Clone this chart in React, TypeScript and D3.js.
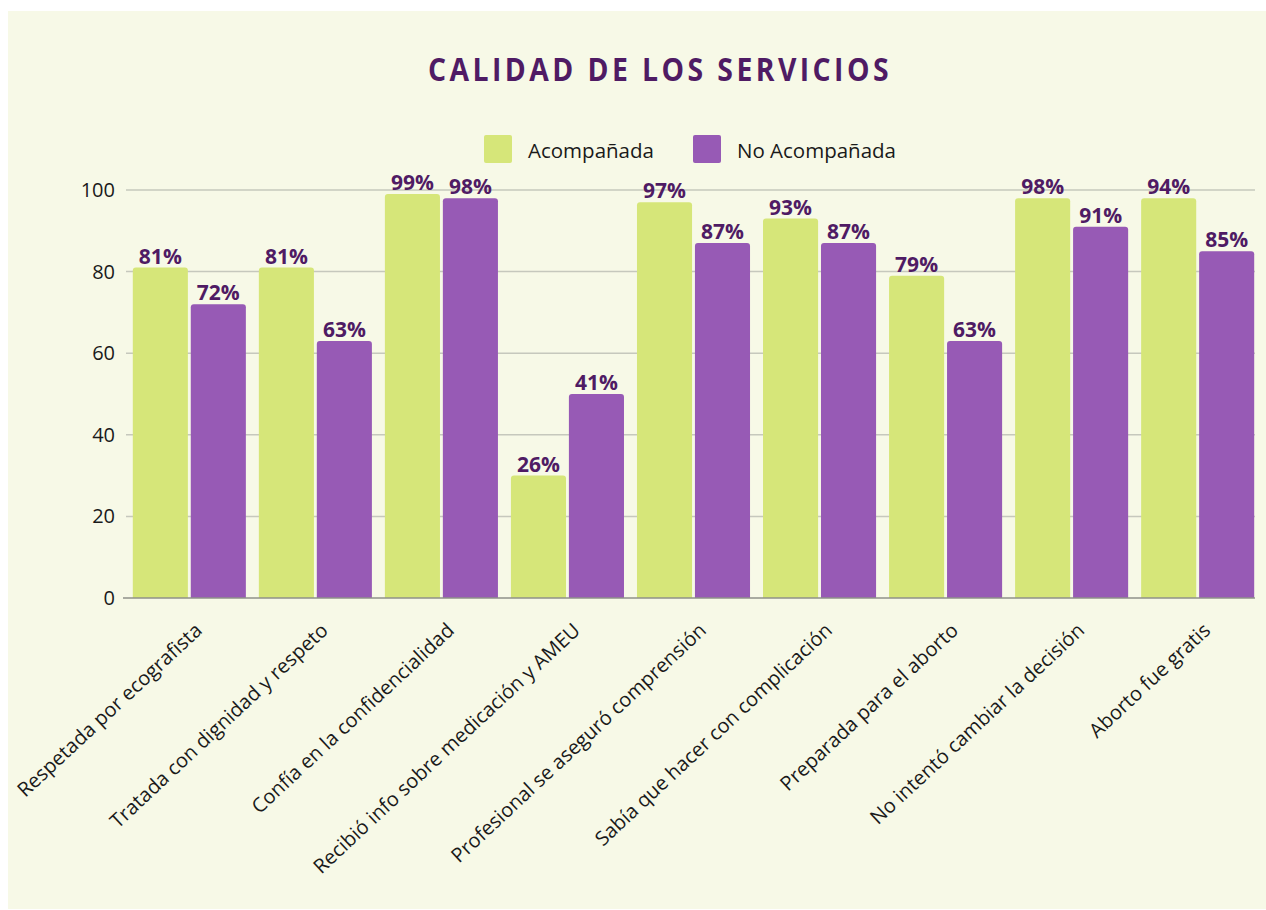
import React, { useEffect, useRef } from 'react';
import * as d3 from 'd3';

const CATEGORIES = [
  'Respetada por ecografista',
  'Tratada con dignidad y respeto',
  'Confía en la confidencialidad',
  'Recibió info sobre medicación y AMEU',
  'Profesional se aseguró comprensión',
  'Sabía que hacer con complicación',
  'Preparada para el aborto',
  'No intentó cambiar la decisión',
  'Aborto fue gratis'
];
const SERIES = ['Acompañada', 'No Acompañada'];
// bar heights as drawn in the picture
const ACOMP_VALUES = [81, 81, 99, 30, 97, 93, 79, 98, 98];
const NO_ACOMP_VALUES = [72, 63, 98, 50, 87, 87, 63, 91, 85];
// labels printed above the bars
const ACOMP_LABELS = ['81%', '81%', '99%', '26%', '97%', '93%', '79%', '98%', '94%'];
const NO_ACOMP_LABELS = ['72%', '63%', '98%', '41%', '87%', '87%', '63%', '91%', '85%'];
const Y_TICKS = [0, 20, 40, 60, 80, 100];

const COLORS = ['#d6e679', '#975ab5'];
const FONT = '"Open Sans", "Noto Sans", sans-serif';

export default function App() {
  const svgRef = useRef<SVGSVGElement>(null);

  useEffect(() => {
    const W = 1266;
    const svg = d3.select(svgRef.current);
    svg.selectAll('*').remove();

    // panel
    svg.append('rect')
      .attr('x', 8).attr('y', 11)
      .attr('width', W - 8).attr('height', 898)
      .attr('fill', '#f7f9e7');

    const x0 = d3.scaleBand<string>()
      .domain(CATEGORIES)
      .range([126.5, 1260.5])
      .paddingInner(0.103)
      .paddingOuter(0.05);
    const x1 = d3.scaleBand<string>()
      .domain(SERIES)
      .range([0, x0.bandwidth()])
      .paddingInner(0.05);
    const y = d3.scaleLinear().domain([0, 100]).range([598, 190]);

    // gridlines + y labels
    const yAxis = svg.append('g');
    yAxis.selectAll('line')
      .data(Y_TICKS.filter(t => t > 0))
      .join('line')
        .attr('x1', 126).attr('x2', 1255)
        .attr('y1', d => y(d)).attr('y2', d => y(d))
        .attr('stroke', '#c6c8bd').attr('stroke-width', 1.5);
    yAxis.selectAll('text')
      .data(Y_TICKS)
      .join('text')
        .attr('x', 115)
        .attr('y', d => y(d) + 7)
        .attr('text-anchor', 'end')
        .style('font-family', FONT)
        .style('font-size', '20px')
        .style('fill', '#1a1a1a')
        .text(d => d);

    const rows = CATEGORIES.map((c, i) => ({
      cat: c,
      vals: [
        { s: SERIES[0], v: ACOMP_VALUES[i], label: ACOMP_LABELS[i] },
        { s: SERIES[1], v: NO_ACOMP_VALUES[i], label: NO_ACOMP_LABELS[i] }
      ]
    }));

    const topRound = (x: number, yTop: number, w: number, yBot: number, r: number) =>
      `M${x},${yBot}V${yTop + r}Q${x},${yTop} ${x + r},${yTop}H${x + w - r}Q${x + w},${yTop} ${x + w},${yTop + r}V${yBot}Z`;

    const groups = svg.append('g').selectAll('g')
      .data(rows)
      .join('g')
        .attr('transform', d => `translate(${x0(d.cat)},0)`);

    groups.selectAll('path')
      .data(d => d.vals)
      .join('path')
        .attr('d', d => topRound(x1(d.s)!, y(d.v), x1.bandwidth(), y(0), 3))
        .attr('fill', (d, i) => COLORS[i]);

    groups.selectAll('text')
      .data(d => d.vals)
      .join('text')
        .attr('x', d => x1(d.s)! + x1.bandwidth() / 2)
        .attr('y', d => y(d.v) - 4)
        .attr('text-anchor', 'middle')
        .style('font-family', FONT)
        .style('font-weight', 700)
        .style('font-size', '21px')
        .style('fill', '#4f1b64')
        .text(d => d.label);

    // baseline
    svg.append('line')
      .attr('x1', 123).attr('x2', 1255)
      .attr('y1', y(0)).attr('y2', y(0))
      .attr('stroke', '#8f918a').attr('stroke-width', 1.5);

    // x labels
    svg.append('g').selectAll('text')
      .data(CATEGORIES)
      .join('text')
        .attr('transform', d => `translate(${x0(d)! + x0.bandwidth() / 2 + 14},632) rotate(-43)`)
        .attr('text-anchor', 'end')
        .style('font-family', FONT)
        .style('font-size', '20px')
        .style('fill', '#1a1a1a')
        .text(d => d);

    // title
    svg.append('text')
      .attr('x', 428).attr('y', 81)
      .attr('textLength', 464)
      .attr('lengthAdjust', 'spacingAndGlyphs')
      .style('font-family', FONT)
      .style('font-weight', 700)
      .style('font-size', '33px')
      .style('letter-spacing', '4px')
      .style('fill', '#4f1b64')
      .text('CALIDAD DE LOS SERVICIOS');

    // legend
    const legendX = [484, 693];
    const legend = svg.append('g').selectAll('g')
      .data(SERIES)
      .join('g')
        .attr('transform', (d, i) => `translate(${legendX[i]},135)`);
    legend.append('rect')
      .attr('width', 28).attr('height', 28).attr('rx', 2)
      .attr('fill', (d, i) => COLORS[i]);
    legend.append('text')
      .attr('x', 44).attr('y', 23)
      .style('font-family', FONT)
      .style('font-size', '20.5px')
      .style('fill', '#1a1a1a')
      .text(d => d);
  }, []);

  return (
    <svg ref={svgRef} width={1266} height={910}
      style={{ position: 'absolute', left: 0, top: 0 }} />
  );
}
